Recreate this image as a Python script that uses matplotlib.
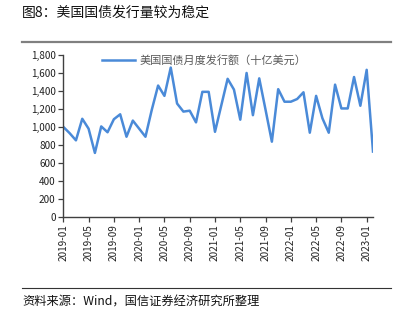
import matplotlib
matplotlib.use("Agg")

import matplotlib.pyplot as plt
import numpy as np
import pandas as pd
from matplotlib.ticker import StrMethodFormatter

plt.rcParams["font.family"] = ["Noto Sans CJK SC", "DejaVu Sans"]

TITLE = "图8：美国国债发行量较为稳定"
SOURCE = "资料来源：Wind，国信证券经济研究所整理"
SERIES_NAME = "美国国债月度发行额（十亿美元）"

# 2019-01 .. 2023-02, monthly
months = pd.date_range("2019-01-01", periods=50, freq="MS").strftime("%Y-%m").tolist()
issuance = [
    1000, 930, 850, 1090, 980, 710, 1005, 940, 1085, 1140, 890, 1070,
    980, 890, 1190, 1460, 1345, 1660, 1260, 1170, 1180, 1050, 1390, 1390,
    945, 1240, 1535, 1415, 1080, 1600, 1130, 1540, 1190, 835, 1420, 1280,
    1280, 1310, 1385, 935, 1345, 1095, 935, 1470, 1205, 1205, 1555, 1235,
    1635, 725,
]

LINE_COLOR = "#4a8ad8"
AXIS_COLOR = "#404040"


def main() -> None:
    fig = plt.figure(figsize=(4.02, 3.22), dpi=100)
    ax = fig.add_axes([63.3 / 402, 1 - 216.7 / 322, (373 - 63.3) / 402, (216.7 - 55) / 322])

    x = np.arange(len(issuance))
    ax.plot(x, issuance, color=LINE_COLOR, linewidth=1.8, label=SERIES_NAME)

    ax.set_xlim(0, 49)
    ax.set_ylim(0, 1800)
    ax.set_yticks(range(0, 1801, 200))
    ax.yaxis.set_major_formatter(StrMethodFormatter("{x:,.0f}"))

    tick_idx = list(range(0, len(months), 4))
    ax.set_xticks(tick_idx)
    ax.set_xticklabels([months[i] for i in tick_idx], rotation=90)

    for side in ("top", "right"):
        ax.spines[side].set_visible(False)
    for side in ("left", "bottom"):
        ax.spines[side].set_color(AXIS_COLOR)
        ax.spines[side].set_linewidth(1.0)
    ax.tick_params(axis="both", direction="out", length=3.5, width=0.9,
                   color=AXIS_COLOR, labelsize=7.2, labelcolor="#222222", pad=2)

    leg = ax.legend(loc="center left", bbox_to_anchor=(101.7 / 402, 1 - 60 / 322),
                    bbox_transform=fig.transFigure, frameon=False, fontsize=8,
                    handlelength=3.0, handletextpad=0.45, borderpad=0, borderaxespad=0)
    for t in leg.get_texts():
        t.set_color("#595959")

    # title and source lines
    fig.text(22 / 402, 1 - 13 / 322, TITLE, fontsize=10, va="center", ha="left", color="#111111")
    fig.add_artist(plt.Line2D([22 / 402, 390.7 / 402], [1 - 41.7 / 322] * 2,
                              color="#808080", linewidth=1.6))
    fig.add_artist(plt.Line2D([22 / 402, 390.7 / 402], [1 - 288.3 / 322] * 2,
                              color="#333333", linewidth=0.8))
    fig.text(22 / 402, 1 - 302.3 / 322, SOURCE, fontsize=8.8, va="center", ha="left", color="#111111")

    fig.savefig("out.png", dpi=100)
    plt.close(fig)


if __name__ == "__main__":
    main()
